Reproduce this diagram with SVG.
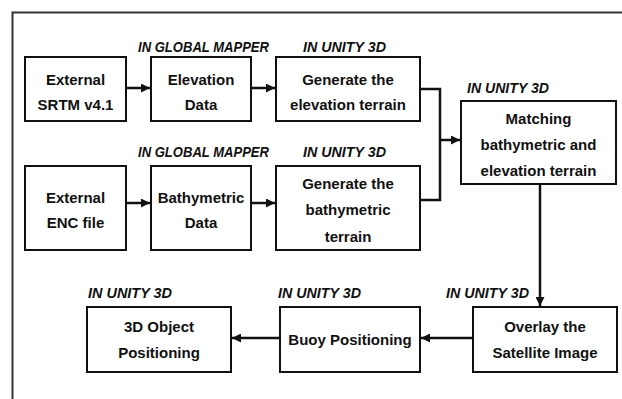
<svg xmlns="http://www.w3.org/2000/svg" width="622" height="399" viewBox="0 0 622 399">
<defs>
<style>
.box{fill:#fff;stroke:#111;stroke-width:2}
.t{font-family:"Liberation Sans",Arial,sans-serif;font-weight:bold;font-size:15px;fill:#111;text-anchor:middle}
.lb{font-family:"Liberation Sans",Arial,sans-serif;font-weight:bold;font-style:italic;font-size:14.5px;fill:#111}
.c{fill:none;stroke:#111;stroke-width:2.5}
</style>
<marker id="ah" viewBox="0 0 10 10" refX="10" refY="5" markerWidth="9" markerHeight="9" markerUnits="userSpaceOnUse" orient="auto">
<path d="M0,0 L10,5 L0,10 z" fill="#111"/>
</marker>
</defs>
<rect width="622" height="399" fill="#fff"/>
<path d="M12.5,399 V12.5 H622" fill="none" stroke="#333" stroke-width="2"/>

<g id="labels">
<text class="lb" x="138" y="52" textLength="131" lengthAdjust="spacingAndGlyphs">IN GLOBAL MAPPER</text>
<text class="lb" x="303" y="52" textLength="83" lengthAdjust="spacingAndGlyphs">IN UNITY 3D</text>
<text class="lb" x="138" y="157" textLength="131" lengthAdjust="spacingAndGlyphs">IN GLOBAL MAPPER</text>
<text class="lb" x="303" y="157" textLength="83" lengthAdjust="spacingAndGlyphs">IN UNITY 3D</text>
<text class="lb" x="467" y="93" textLength="82" lengthAdjust="spacingAndGlyphs">IN UNITY 3D</text>
<text class="lb" x="88" y="298" textLength="84" lengthAdjust="spacingAndGlyphs">IN UNITY 3D</text>
<text class="lb" x="278" y="298" textLength="83" lengthAdjust="spacingAndGlyphs">IN UNITY 3D</text>
<text class="lb" x="446" y="298" textLength="83" lengthAdjust="spacingAndGlyphs">IN UNITY 3D</text>
</g>

<g id="srtm"><rect class="box" x="25" y="57" width="101" height="64"/>
<text class="t" x="75.5" y="85">External</text><text class="t" x="75.5" y="110">SRTM v4.1</text></g>
<g id="elevdata"><rect class="box" x="151" y="57" width="100" height="64"/>
<text class="t" x="201" y="85">Elevation</text><text class="t" x="201" y="110">Data</text></g>
<g id="genelev"><rect class="box" x="276" y="57" width="144" height="64"/>
<text class="t" x="348" y="85">Generate the</text><text class="t" x="348" y="110">elevation terrain</text></g>
<g id="enc"><rect class="box" x="25" y="166" width="101" height="84"/>
<text class="t" x="75.5" y="203">External</text><text class="t" x="75.5" y="228">ENC file</text></g>
<g id="bathdata"><rect class="box" x="151" y="166" width="100" height="84"/>
<text class="t" x="201" y="203">Bathymetric</text><text class="t" x="201" y="228">Data</text></g>
<g id="genbath"><rect class="box" x="276" y="166" width="144" height="84"/>
<text class="t" x="348" y="189">Generate the</text><text class="t" x="348" y="215">bathymetric</text><text class="t" x="348" y="242">terrain</text></g>
<g id="matching"><rect class="box" x="461" y="101" width="155" height="83"/>
<text class="t" x="538.5" y="124">Matching</text><text class="t" x="538.5" y="150">bathymetric and</text><text class="t" x="538.5" y="176">elevation terrain</text></g>
<g id="overlay"><rect class="box" x="473" y="307" width="144" height="65"/>
<text class="t" x="545" y="332">Overlay the</text><text class="t" x="545" y="358">Satellite Image</text></g>
<g id="buoy"><rect class="box" x="280" y="307" width="140" height="65"/>
<text class="t" x="350" y="345">Buoy Positioning</text></g>
<g id="obj3d"><rect class="box" x="87" y="307" width="144" height="65"/>
<text class="t" x="159" y="332">3D Object</text><text class="t" x="159" y="358">Positioning</text></g>

<g id="connectors">
<path class="c" d="M126,88 H150" marker-end="url(#ah)"/>
<path class="c" d="M251,88 H275" marker-end="url(#ah)"/>
<path class="c" d="M126,203 H150" marker-end="url(#ah)"/>
<path class="c" d="M251,203 H275" marker-end="url(#ah)"/>
<path class="c" d="M420,89 H440 V200 H420"/>
<path class="c" d="M440,140 H460" marker-end="url(#ah)"/>
<path class="c" d="M540,184 V306" marker-end="url(#ah)"/>
<path class="c" d="M473,338 H421" marker-end="url(#ah)"/>
<path class="c" d="M280,338 H232" marker-end="url(#ah)"/>
</g>
</svg>
